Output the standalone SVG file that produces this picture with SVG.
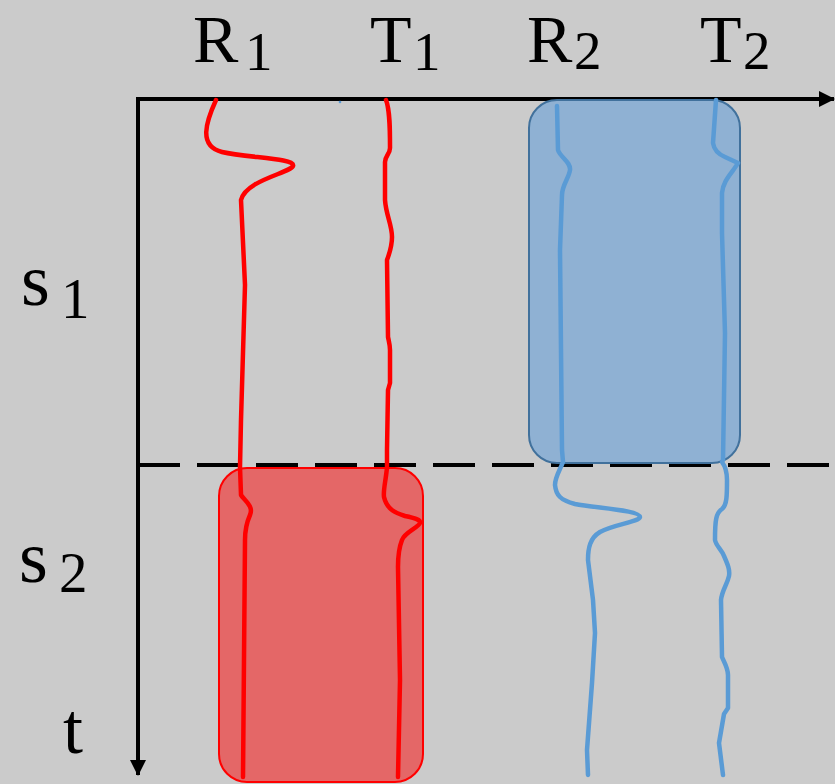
<svg xmlns="http://www.w3.org/2000/svg" width="835" height="784" viewBox="0 0 835 784">
<style>
.red{fill:none;stroke:#ff0000;stroke-width:4.5;stroke-linecap:round;stroke-linejoin:round}
.blue{fill:none;stroke:#5a9bd5;stroke-width:4.5;stroke-linecap:round;stroke-linejoin:round}
.axis{stroke:#000;stroke-width:4;fill:none}
</style>
<defs>
<marker id="ah" viewBox="0 0 16 16" refX="15" refY="8" markerWidth="16" markerHeight="16" markerUnits="userSpaceOnUse" orient="auto">
<path d="M0,0 L16,8 L0,16 Z" fill="#000"/>
</marker>
</defs>
<rect x="0" y="0" width="835" height="784" fill="#cbcbcb"/>
<g id="labels" fill="#000">
<g id="label-R1"><text font-family="Liberation Serif" font-size="68" x="193" y="62">R</text><text font-family="Liberation Serif" font-size="55" x="245" y="70">1</text></g>
<g id="label-T1"><text font-family="Liberation Serif" font-size="68" x="370" y="62">T</text><text font-family="Liberation Serif" font-size="55" x="413" y="70">1</text></g>
<g id="label-R2"><text font-family="Liberation Serif" font-size="68" x="527" y="62">R</text><text font-family="Liberation Serif" font-size="55" x="574" y="69">2</text></g>
<g id="label-T2"><text font-family="Liberation Serif" font-size="68" x="700" y="62">T</text><text font-family="Liberation Serif" font-size="55" x="743" y="69">2</text></g>
<g id="label-s1"><text font-family="Liberation Serif" font-size="74" x="21" y="305">s</text><text font-family="Liberation Serif" font-size="57" x="61" y="318">1</text></g>
<g id="label-s2"><text font-family="Liberation Serif" font-size="74" x="19" y="582">s</text><text font-family="Liberation Serif" font-size="57" x="59" y="592">2</text></g>
<g id="label-t"><text font-family="Liberation Serif" font-size="72" x="63" y="753">t</text></g>
</g>
<g id="connectors">
<line class="axis" x1="138" y1="99" x2="834" y2="99" marker-end="url(#ah)"/>
<line class="axis" x1="138" y1="97" x2="138" y2="775" marker-end="url(#ah)"/>
<line x1="138" y1="465" x2="835" y2="465" stroke="#000" stroke-width="4" stroke-dasharray="42 17"/>
</g>
<g id="box-blue">
<rect x="529" y="100" width="211" height="363" rx="28" ry="28" fill="#8fb1d3" stroke="#41719c" stroke-width="2"/>
</g>
<g id="box-red">
<rect x="219" y="468" width="204" height="314" rx="28" ry="28" fill="#e46767" stroke="#ff0000" stroke-width="2"/>
</g>
<g id="trace-R1">
<path class="red" d="M216,100 C206,122 198,146 222,152 C248,158 296,158 293,166 C290,173 246,180 241,200 L245,285 L241,420 L240,467 L241,495 C244,500 254,506 250,515 C246,524 245,530 245,540 L243,777"/>
</g>
<g id="trace-T1">
<path class="red" d="M386,100 C390,110 390,130 390,148 C390,154 385,156 385,162 L385,200 C386,215 392,225 392,237 C392,245 390,252 387,260 L388,337 C389,342 390,345 390,350 L390,383 L388,390 L387,450 L387,467 C386,480 383,490 384,497 C387,510 396,513 405,516 C415,518 421,520 420,523 C418,528 405,532 402,540 C398,550 398,560 398,567 L400,680 L398,777"/>
</g>
<g id="trace-R2">
<path class="blue" d="M557,106 L558,150 C560,157 571,162 570,170 C569,178 562,185 562,195 L560,250 L562,450 L563,462 C560,470 555,477 555,485 C556,495 560,500 575,504 C595,508 640,510 640,517 C639,522 615,524 600,532 C590,538 588,548 588,560 L593,600 L595,633 L592,683 L587,750 L588,775"/>
</g>
<g id="trace-T2">
<path class="blue" d="M716,100 L713,143 C714,150 718,154 725,157 L738,163 C733,172 723,180 722,193 L722,233 L725,333 L723,460 L722,462 C725,466 727,470 727,480 C727,495 727,505 722,509 C716,513 715,520 715,540 C716,546 722,550 724,556 C728,565 730,570 729,576 C727,585 722,590 721,600 L722,657 C724,662 728,668 728,675 L728,708 L724,714 L719,743 L723,775"/>
</g>
<circle cx="340" cy="102" r="1.3" fill="#5a9bd5"/>
</svg>
